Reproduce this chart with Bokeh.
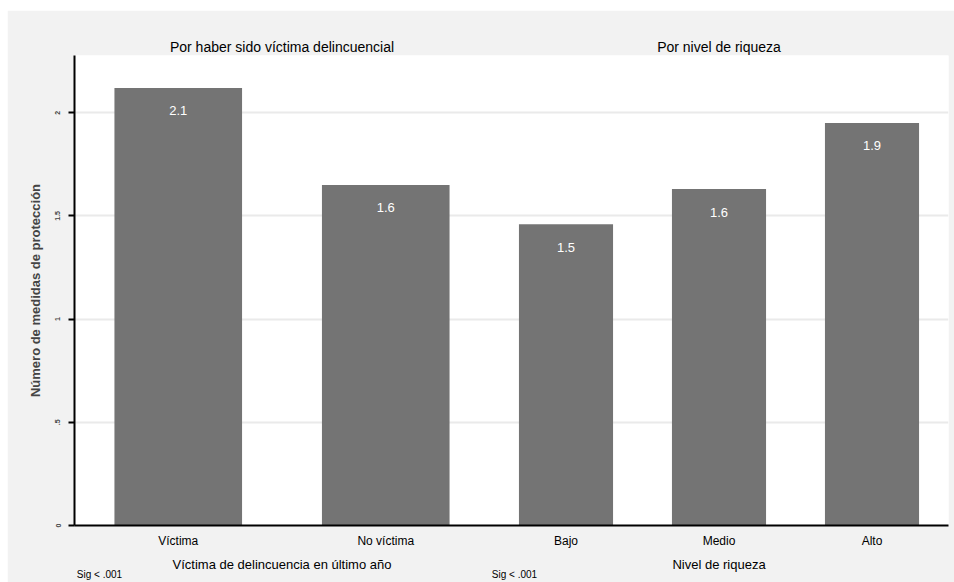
from bokeh.plotting import figure
from bokeh.models import Range1d, FixedTicker, LinearAxis
from bokeh.core.properties import value
from bokeh.embed import file_html
from bokeh.resources import INLINE

# ---- data ----
group_titles = ["Por haber sido víctima delincuencial", "Por nivel de riqueza"]
group_axis_titles = ["Víctima de delincuencia en último año", "Nivel de riqueza"]
group_notes = ["Sig < .001", "Sig < .001"]
categories_victim = ["Víctima", "No víctima"]
categories_wealth = ["Bajo", "Medio", "Alto"]
values_victim = [2.12, 1.65]
values_wealth = [1.46, 1.63, 1.95]
labels_victim = ["2.1", "1.6"]
labels_wealth = ["1.5", "1.6", "1.9"]
y_ticks = [0, 0.5, 1, 1.5, 2]
y_tick_labels = ["0", ".5", "1", "1.5", "2"]
y_title = "Número de medidas de protección"

# ---- layout ----
FONT = "Liberation Sans"
BAR = "#747474"
group_widths = [415, 459]          # relative panel widths (x units)
bar_frac = 0.615
Y_MAX = 2.277
NOTE_HALF_W = 23                   # half width of note text, x units (~px)

groups = [
    (categories_victim, values_victim, labels_victim),
    (categories_wealth, values_wealth, labels_wealth),
]

xs, tops, widths, txts, cats = [], [], [], [], []
group_starts, group_centers = [], []
start = 0.0
for (cs, vs, ls), gw in zip(groups, group_widths):
    slot = gw / len(cs)
    group_starts.append(start)
    group_centers.append(start + gw / 2)
    for i, (c, v, l) in enumerate(zip(cs, vs, ls)):
        xs.append(start + (i + 0.5) * slot)
        tops.append(v)
        widths.append(slot * bar_frac)
        txts.append(l)
        cats.append(c)
    start += gw

p = figure(width=947, height=572, output_backend="svg", toolbar_location=None,
           x_range=Range1d(0, sum(group_widths)), y_range=Range1d(0, Y_MAX),
           min_border_left=67, min_border_right=6, min_border_top=45, min_border_bottom=57,
           background_fill_color="white", border_fill_color="#f2f2f2",
           outline_line_color=None)
p.margin = (10, 0, 0, 7)

# bars
p.vbar(x=xs, top=tops, width=widths, bottom=0, fill_color=BAR, line_color=None)
p.text(x=xs, y=tops, text=txts, text_color="white", text_align="center",
       text_baseline="middle", y_offset=23, text_font=value(FONT), text_font_size="13px")

# x axis (categories)
xa = p.xaxis[0]
xa.ticker = FixedTicker(ticks=xs)
xa.major_label_overrides = {x: c for x, c in zip(xs, cats)}
xa.major_tick_line_color = None
xa.minor_tick_line_color = None
xa.axis_line_width = 2
xa.axis_line_color = "black"
xa.major_label_text_font = FONT
xa.major_label_text_font_size = "12px"
xa.major_label_text_color = "black"
xa.major_label_standoff = 2

def text_axis(ticks, texts, size, standoff):
    return LinearAxis(ticker=FixedTicker(ticks=ticks),
                      major_label_overrides={x: t for x, t in zip(ticks, texts)},
                      axis_line_color=None, major_tick_line_color=None,
                      minor_tick_line_color=None, major_label_standoff=standoff,
                      major_label_text_font=FONT, major_label_text_font_size=size,
                      major_label_text_color="black")

# group axis titles
p.add_layout(text_axis(group_centers, group_axis_titles, "13px", 0), "below")
# notes, left-aligned at each panel start
note_pos = [gs + 2 + NOTE_HALF_W for gs in group_starts]
p.add_layout(text_axis(note_pos, group_notes, "10px", -12), "below")
# group titles
p.add_layout(text_axis(group_centers, group_titles, "14px", -5), "above")

# y axis
ya = p.yaxis[0]
ya.ticker = FixedTicker(ticks=y_ticks)
ya.major_label_overrides = {t: l for t, l in zip(y_ticks, y_tick_labels)}
ya.major_label_orientation = "vertical"
ya.major_label_text_font = FONT
ya.major_label_text_font_size = "7px"
ya.major_label_text_font_style = "bold"
ya.major_label_standoff = 8
ya.major_tick_out = 6
ya.major_tick_in = 0
ya.major_tick_line_width = 2
ya.minor_tick_line_color = None
ya.axis_line_width = 2
ya.axis_line_color = "black"
ya.axis_label = y_title
ya.axis_label_text_font = FONT
ya.axis_label_text_font_size = "13px"
ya.axis_label_text_font_style = "bold"
ya.axis_label_standoff = 10

p.ygrid.ticker = FixedTicker(ticks=y_ticks[1:])
p.ygrid.grid_line_color = "#eaeaea"
p.ygrid.grid_line_width = 2
p.xgrid.visible = False

open("out.html", "w").write(file_html(p, INLINE))
